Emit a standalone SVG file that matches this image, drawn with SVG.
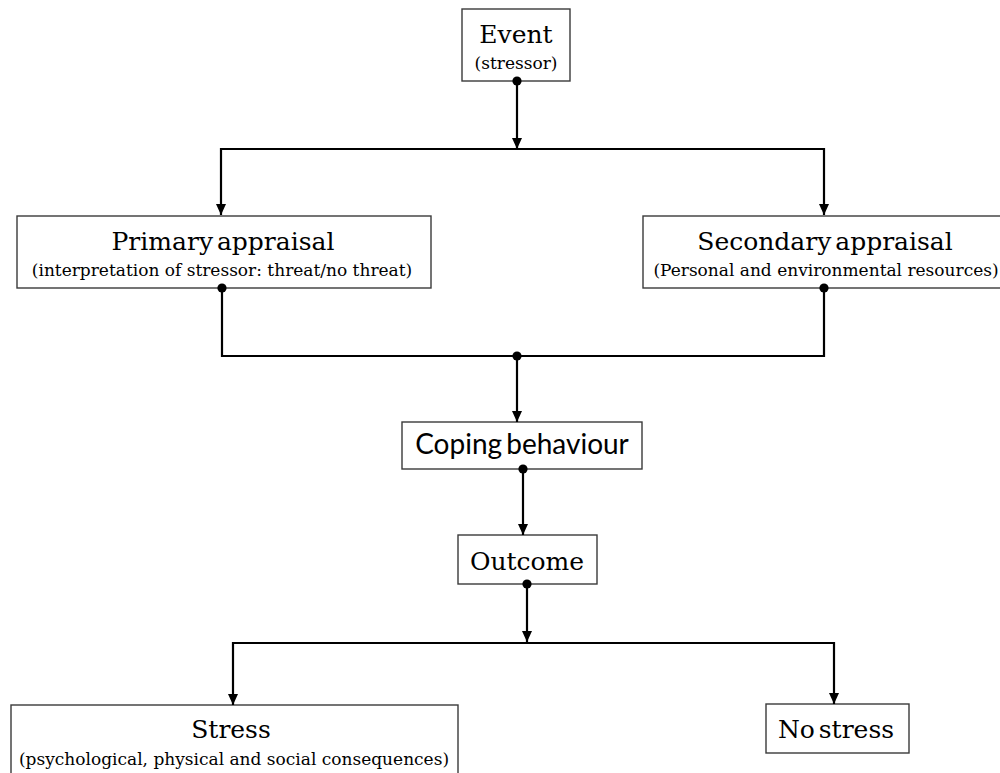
<svg xmlns="http://www.w3.org/2000/svg" width="1000" height="773" viewBox="0 0 1000 773">
<defs>
<marker id="arr" markerUnits="userSpaceOnUse" markerWidth="12" markerHeight="11" refX="11" refY="5.5" orient="auto">
<path d="M0,0.5 L11,5.5 L0,10.5 z" fill="#000"/>
</marker>
<marker id="dot" markerUnits="userSpaceOnUse" markerWidth="11" markerHeight="11" refX="5.5" refY="5.5" orient="auto">
<circle cx="5.5" cy="5.5" r="4.6" fill="#000"/>
</marker>
</defs>
<style>
.box{fill:#fff;stroke:#3a3a3a;stroke-width:1.4}
.t{font-family:"DejaVu Serif","Liberation Serif",serif;font-size:25px;fill:#000;text-anchor:middle;word-spacing:-4px}
.s{font-family:"DejaVu Serif","Liberation Serif",serif;font-size:17px;fill:#000;text-anchor:middle}
.c{font-family:Lato,"Liberation Sans",sans-serif;font-size:28px;fill:#000;text-anchor:middle;word-spacing:-3px}
.ln{fill:none;stroke:#000;stroke-width:2.2}
</style>
<rect width="1000" height="773" fill="#fff"/>
<g id="event">
<rect class="box" x="462" y="9" width="108" height="72"/>
<text class="t" x="516" y="43">Event</text>
<text class="s" x="516" y="69">(stressor)</text>
</g>
<g id="primary">
<rect class="box" x="17" y="216" width="414" height="72"/>
<text class="t" x="223" y="250">Primary appraisal</text>
<text class="s" x="222" y="276">(interpretation of stressor: threat/no threat)</text>
</g>
<g id="secondary">
<rect class="box" x="643" y="216" width="360" height="72"/>
<text class="t" x="825" y="250">Secondary appraisal</text>
<text class="s" x="826" y="276">(Personal and environmental resources)</text>
</g>
<g id="coping">
<rect class="box" x="402" y="422" width="240" height="47"/>
<text class="c" x="522" y="454">Coping behaviour</text>
</g>
<g id="outcome">
<rect class="box" x="458" y="535" width="139" height="49"/>
<text class="t" x="527" y="570">Outcome</text>
</g>
<g id="stress">
<rect class="box" x="11" y="705" width="447" height="80"/>
<text class="t" x="231" y="738">Stress</text>
<text class="s" x="234" y="765">(psychological, physical and social consequences)</text>
</g>
<g id="nostress">
<rect class="box" x="766" y="704" width="143" height="49"/>
<text class="t" x="836" y="738">No stress</text>
</g>
<g id="connectors">
<path class="ln" d="M517,81 V149" marker-start="url(#dot)" marker-end="url(#arr)"/>
<path class="ln" d="M517,149 H221 V215" marker-end="url(#arr)"/>
<path class="ln" d="M517,149 H824 V215" marker-end="url(#arr)"/>
<path class="ln" d="M222,288 V356 H517" marker-start="url(#dot)"/>
<path class="ln" d="M824,288 V356 H517" marker-start="url(#dot)"/>
<path class="ln" d="M517,356 V422" marker-start="url(#dot)" marker-end="url(#arr)"/>
<path class="ln" d="M523,469 V535" marker-start="url(#dot)" marker-end="url(#arr)"/>
<path class="ln" d="M527,584 V642" marker-start="url(#dot)" marker-end="url(#arr)"/>
<path class="ln" d="M527,643 H233 V705" marker-end="url(#arr)"/>
<path class="ln" d="M527,643 H834 V704" marker-end="url(#arr)"/>
</g>
</svg>
